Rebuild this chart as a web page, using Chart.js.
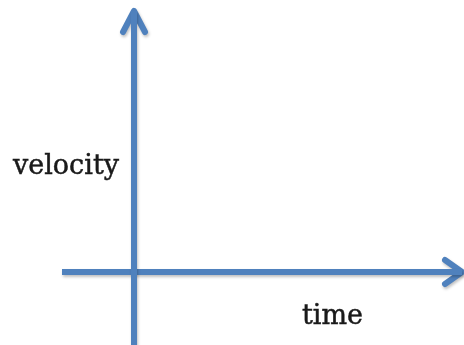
<!DOCTYPE html>
<html>
<head>
<meta charset="utf-8">
<script src="https://cdn.jsdelivr.net/npm/chart.js@4/dist/chart.umd.min.js"></script>
<style>
  html, body { margin: 0; padding: 0; background: #fff; }
  #wrap { width: 464px; height: 345px; }
</style>
</head>
<body>
<div id="wrap"><canvas id="chart" width="464" height="345"></canvas></div>
<script>
// axes of the sketch, origin where they cross (units ~ px of the original)
const timeAxis = [{ x: -72, y: 0 }, { x: 328, y: 0 }];
const velocityAxis = [{ x: 0, y: -73 }, { x: 0, y: 261 }];
const timeHead = [{ x: 311, y: 12 }, { x: 328, y: 0 }, { x: 311, y: -12 }];
const velocityHead = [{ x: -11, y: 240 }, { x: 0, y: 261 }, { x: 11, y: 240 }];

const axisLabels = ["velocity", "time"];
const labelAnchors = [{ x: -121, y: 98 }, { x: 168, y: -52 }];

const BLUE = "#4f81bd";

const lineSet = (data, round) => ({
  data,
  borderColor: BLUE,
  borderWidth: 6,
  borderCapStyle: round ? "round" : "butt",
  borderJoinStyle: round ? "round" : "miter",
  pointRadius: 0,
  showLine: true,
  fill: false,
  tension: 0
});

// soft drop shadow like the original drawing
const shadowPlugin = {
  id: "shadow",
  beforeDatasetsDraw(chart) {
    const ctx = chart.ctx;
    ctx.save();
    ctx.shadowColor = "rgba(0,0,0,0.25)";
    ctx.shadowBlur = 3;
    ctx.shadowOffsetX = 1;
    ctx.shadowOffsetY = 2;
  },
  afterDatasetsDraw(chart) {
    chart.ctx.restore();
  }
};

const labelPlugin = {
  id: "axisText",
  afterDraw(chart) {
    const { ctx, scales } = chart;
    ctx.save();
    ctx.fillStyle = "#1a1a1a";
    ctx.strokeStyle = "#1a1a1a";
    ctx.lineWidth = 0.5;
    ctx.font = "27px 'DejaVu Serif', serif";
    ctx.textAlign = "left";
    ctx.textBaseline = "alphabetic";
    axisLabels.forEach((txt, i) => {
      const p = labelAnchors[i];
      const px = scales.x.getPixelForValue(p.x);
      const py = scales.y.getPixelForValue(p.y);
      ctx.fillText(txt, px, py);
      ctx.strokeText(txt, px, py);
    });
    ctx.restore();
  }
};

new Chart(document.getElementById("chart"), {
  type: "scatter",
  data: {
    datasets: [
      lineSet(velocityAxis, false),
      lineSet(timeAxis, false),
      lineSet(velocityHead, true),
      lineSet(timeHead, true)
    ]
  },
  options: {
    responsive: false,
    animation: false,
    layout: { padding: 0 },
    scales: {
      x: { type: "linear", min: -134, max: 330, display: false },
      y: { type: "linear", min: -73, max: 272, display: false }
    },
    plugins: {
      legend: { display: false },
      tooltip: { enabled: false }
    }
  },
  plugins: [shadowPlugin, labelPlugin]
});
</script>
</body>
</html>
